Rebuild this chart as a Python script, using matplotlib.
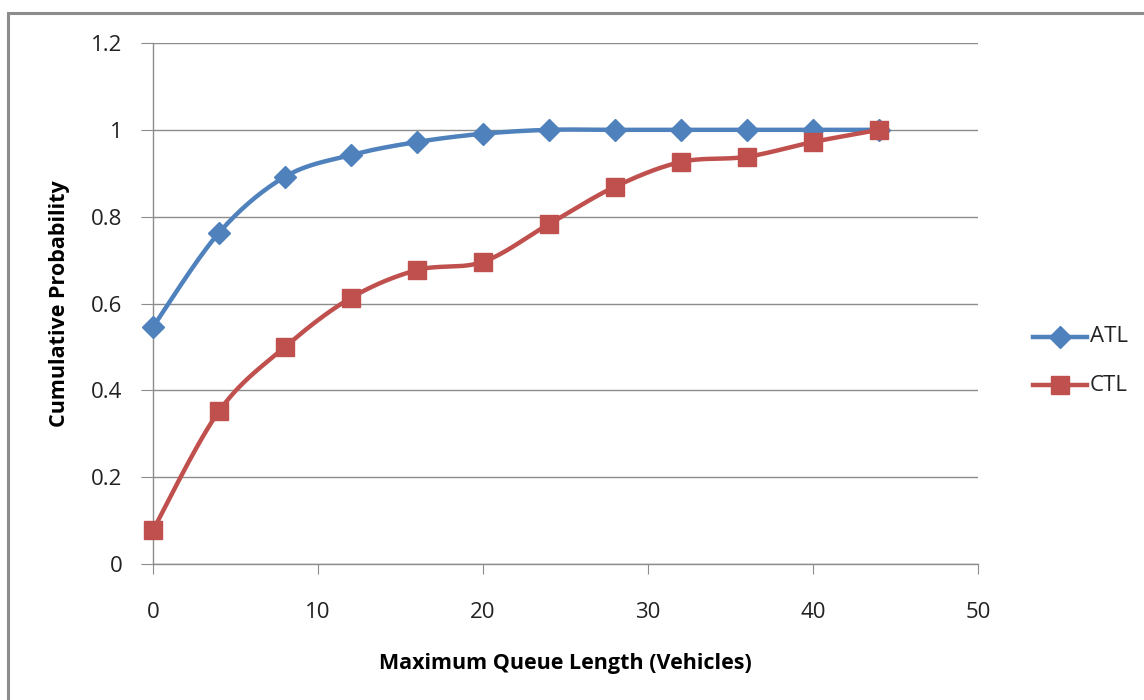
"""Cumulative probability of maximum queue length, ATL vs CTL."""

import numpy as np
import matplotlib
matplotlib.use("Agg")
import matplotlib.pyplot as plt
from matplotlib.lines import Line2D
from matplotlib.patches import Rectangle

queue_len = [0, 4, 8, 12, 16, 20, 24, 28, 32, 36, 40, 44]
atl_prob = [0.546, 0.763, 0.892, 0.942, 0.972, 0.991, 1.0, 1.0, 1.0, 1.0, 1.0, 1.0]
ctl_prob = [0.078, 0.352, 0.500, 0.613, 0.677, 0.696, 0.783, 0.869, 0.926, 0.938, 0.972, 1.0]

x_ticks = [0, 10, 20, 30, 40, 50]
y_ticks = [0, 0.2, 0.4, 0.6, 0.8, 1.0, 1.2]
y_tick_labels = ["0", "0.2", "0.4", "0.6", "0.8", "1", "1.2"]

BLUE = "#4F81BD"
RED = "#C0504D"
GRID = "#8C8C8C"
W, H = 1144, 700


def smooth(x, y, n=30):
    # smoothed line: cubic Bezier segments with Catmull-Rom tangents
    pts = np.column_stack([np.asarray(x, float), np.asarray(y, float)])
    out = [pts[0]]
    t = np.linspace(0, 1, n)[1:, None]
    for i in range(len(pts) - 1):
        p0 = pts[max(i - 1, 0)]
        p1 = pts[i]
        p2 = pts[i + 1]
        p3 = pts[min(i + 2, len(pts) - 1)]
        c1 = p1 + (p2 - p0) / 6.0
        c2 = p2 - (p3 - p1) / 6.0
        seg = ((1 - t) ** 3) * p1 + 3 * ((1 - t) ** 2) * t * c1 + 3 * (1 - t) * t ** 2 * c2 + t ** 3 * p2
        out.extend(seg)
    out = np.array(out)
    return out[:, 0], out[:, 1]


def fx(px):
    return px / W


def fy(py):
    return 1 - py / H


plt.rcParams["font.family"] = ["Open Sans", "DejaVu Sans"]

fig = plt.figure(figsize=(W / 100, H / 100), dpi=100)
ax = fig.add_axes([fx(153), fy(564), (978 - 153) / W, (564 - 43) / H])

for yv in y_ticks:
    ax.axhline(yv, color=GRID, lw=1.0, zorder=0)

sx, sy = smooth(queue_len, atl_prob)
ax.plot(sx, sy, color=BLUE, lw=3.2, solid_capstyle="round", zorder=2, clip_on=False)
ax.plot(queue_len, atl_prob, ls="none", marker="D", ms=11, color=BLUE, zorder=3, clip_on=False)

sx, sy = smooth(queue_len, ctl_prob)
ax.plot(sx, sy, color=RED, lw=3.2, solid_capstyle="round", zorder=4, clip_on=False)
ax.plot(queue_len, ctl_prob, ls="none", marker="s", ms=13.5, color=RED, zorder=5, clip_on=False)

ax.set_xlim(0, 50)
ax.set_ylim(0, 1.2)
ax.set_xticks(x_ticks)
ax.set_yticks(y_ticks)
ax.set_yticklabels(y_tick_labels)
ax.tick_params(axis="x", direction="out", length=7, color=GRID, pad=20, labelsize=16,
               labelcolor="#222222")
ax.tick_params(axis="y", direction="out", length=9, color=GRID, pad=13, labelsize=16,
               labelcolor="#222222")

for side in ["top", "right"]:
    ax.spines[side].set_visible(False)
for side in ["left", "bottom"]:
    ax.spines[side].set_color(GRID)
    ax.spines[side].set_linewidth(1.0)

ax.set_xlabel("Maximum Queue Length (Vehicles)", fontsize=15.5, fontweight="bold", labelpad=22)
ax.set_ylabel("Cumulative Probability", fontsize=15.5, fontweight="bold", labelpad=15)

# legend on the right
for name, color, marker, ms, py in [("ATL", BLUE, "D", 11, 337), ("CTL", RED, "s", 13, 385)]:
    fig.add_artist(Line2D([fx(1033), fx(1087)], [fy(py)] * 2, color=color, lw=3.2,
                          transform=fig.transFigure))
    fig.add_artist(Line2D([fx(1060)], [fy(py)], color=color, marker=marker, ms=ms, ls="none",
                          transform=fig.transFigure))
    fig.text(fx(1090), fy(py), name, fontsize=16, va="center", ha="left", color="#222222")

# outer chart frame (right and bottom edges fall outside the image)
fig.add_artist(Rectangle((fx(8), fy(710)), (1150 - 8) / W, (710 - 13) / H,
                         transform=fig.transFigure, fill=False, edgecolor=GRID, lw=2.2))

fig.savefig("out.png", dpi=100)
